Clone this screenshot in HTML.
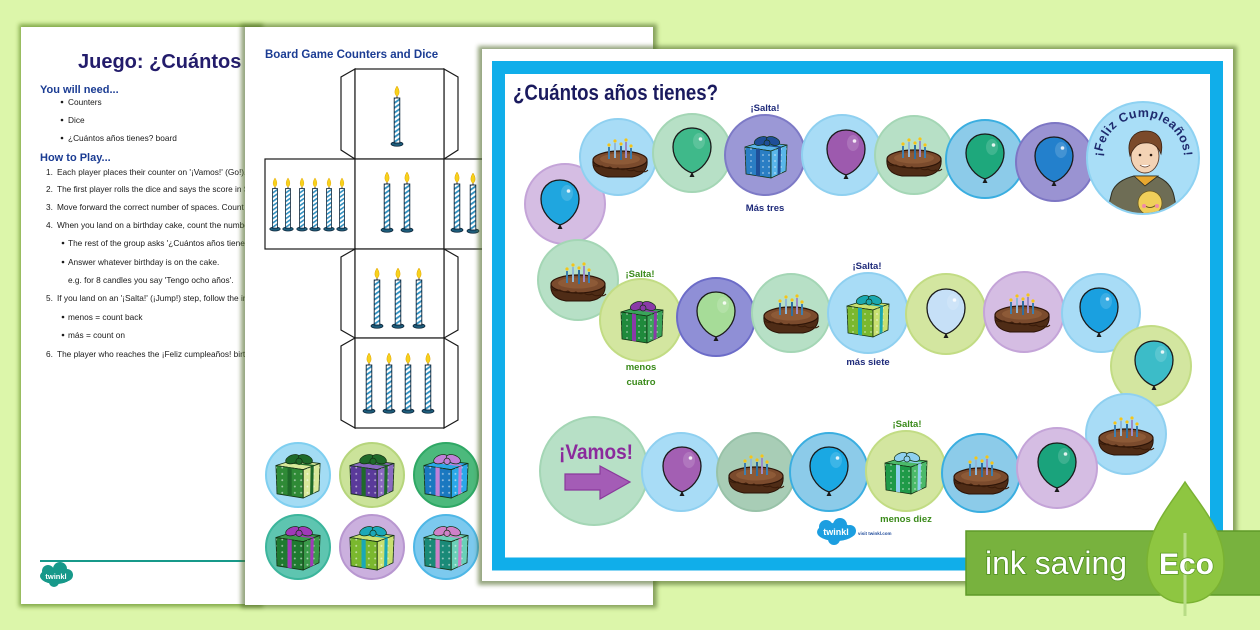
<!DOCTYPE html>
<html><head><meta charset="utf-8"><style>
html,body{margin:0;padding:0;background:#dcf6aa;}
svg{display:block;font-family:"Liberation Sans",sans-serif;}
</style></head><body>
<svg width="1260" height="630" viewBox="0 0 1260 630" xmlns="http://www.w3.org/2000/svg">
<defs>
<filter id="blur" x="-10%" y="-10%" width="120%" height="120%"><feGaussianBlur stdDeviation="2.2"/></filter>
<pattern id="stripe" width="4" height="4" patternUnits="userSpaceOnUse" patternTransform="rotate(-35)"><rect width="4" height="4" fill="#fff"/><rect width="4" height="1.8" fill="#2f8fbf"/></pattern>
<pattern id="dots" width="6" height="6" patternUnits="userSpaceOnUse"><circle cx="3" cy="3" r="0.9" fill="#fff" opacity=".55"/></pattern>
<g id="cnd">
<ellipse cx="0" cy="0" rx="6" ry="2.3" fill="#1d5c7a" stroke="#0d2438" stroke-width=".7"/>
<rect x="-2.8" y="-46" width="5.6" height="45" fill="url(#stripe)" stroke="#0d2438" stroke-width=".9"/>
<line x1="0" y1="-46" x2="0" y2="-49" stroke="#222" stroke-width="1"/>
<path d="M0,-58 C2.6,-54 3,-50 0,-47.6 C-3,-50 -2.6,-54 0,-58Z" fill="#f7d21c" stroke="#e0a000" stroke-width=".5"/>
</g>
<g id="bal">
<path d="M0,-23 C12,-23 19,-14 19,-4 C19,9 9,19 0,22 C-9,19 -19,9 -19,-4 C-19,-14 -12,-23 0,-23Z" style="fill:var(--b)" stroke="#1a1a1a" stroke-width="1.3"/>
<path d="M0,21 L-2.5,26 L2.5,26Z" fill="#1a1a1a"/>
<ellipse cx="7" cy="-10" rx="6" ry="8" fill="#fff" opacity=".15"/>
<circle cx="8.5" cy="-12" r="1.8" fill="#fff" opacity=".85"/>
</g>
<g id="cake">
<path d="M-27,0 C-28,9 -24,15 -12,17 L12,17 C24,15 28,9 27,0Z" fill="#4f2c16" stroke="#2a1206" stroke-width="1"/>
<ellipse cx="0" cy="0" rx="27" ry="9" fill="#7b4b2d" stroke="#2e1508" stroke-width="1.2"/>
<ellipse cx="0" cy="-1" rx="20" ry="5.5" fill="#8d5a37"/>
<path d="M-26,5 q4,3 8,1 q4,3 8,1 q4,3 8,1 q4,3 8,1 q4,3 8,1 q4,3 8,1 q3,2 6,-1" fill="none" stroke="#3a1c0a" stroke-width="1"/>
<g stroke-width="2">
<line x1="-11" y1="-13" x2="-11" y2="-1" stroke="#3d7fb0"/>
<line x1="-5" y1="-17" x2="-5" y2="-2" stroke="#8fb8d8"/>
<line x1="1" y1="-14" x2="1" y2="0" stroke="#2f6fa0"/>
<line x1="6" y1="-18" x2="6" y2="-2" stroke="#9a8cc8"/>
<line x1="11" y1="-12" x2="11" y2="-1" stroke="#3d7fb0"/>
</g>
<g fill="#f5c518"><circle cx="-11" cy="-15" r="1.6"/><circle cx="-5" cy="-19" r="1.6"/><circle cx="1" cy="-16" r="1.6"/><circle cx="6" cy="-20" r="1.6"/><circle cx="11" cy="-14" r="1.6"/></g>
</g>
<g id="gift"><g transform="translate(-24,-23)" stroke-linejoin="round">
<polygon points="3,13 19,8 45,11 29,17" style="fill:var(--g2)" stroke="#143214" stroke-width=".8"/>
<polygon points="3,13 29,17 29,44 4,40" style="fill:var(--g1)" stroke="#143214" stroke-width=".8"/>
<polygon points="29,17 45,11 44,37 29,44" style="fill:var(--g2)" stroke="#143214" stroke-width=".8"/>
<polygon points="3,13 29,17 29,44 4,40" fill="url(#dots)"/>
<polygon points="29,17 45,11 44,37 29,44" fill="url(#dots)"/>
<polygon points="14,14.7 18,15.3 18,42.3 14,41.7" style="fill:var(--r)"/>
<polygon points="36,14.4 39,13.3 38.5,39.5 35.5,41" style="fill:var(--r)"/>
<polygon points="12,10.5 15,9.5 40,12.5 37,13.6" style="fill:var(--r)"/>
<ellipse cx="19" cy="7" rx="7" ry="4" style="fill:var(--r)" stroke="#143214" stroke-width=".7" transform="rotate(-20 19 7)"/>
<ellipse cx="31" cy="7" rx="7" ry="4" style="fill:var(--r)" stroke="#143214" stroke-width=".7" transform="rotate(20 31 7)"/>
<circle cx="25" cy="9" r="3" style="fill:var(--r)" stroke="#143214" stroke-width=".7"/>
</g></g>
<clipPath id="fclip"><circle cx="1143" cy="158" r="55"/></clipPath>
<path id="arc" d="M1103,167 A41,41 0 1 1 1183,167" fill="none"/>
</defs>

<!-- background -->
<rect width="1260" height="630" fill="#dcf6aa"/>

<!-- LEFT PAGE -->
<rect x="19" y="24" width="244" height="583" fill="#5f8a22" opacity=".7" filter="url(#blur)"/>
<rect x="21" y="27" width="240" height="577" fill="#fff"/>
<text x="78" y="68" font-size="20" font-weight="bold" fill="#231c6b">Juego: ¿Cuántos años tienes?</text>
<text x="40" y="93" font-size="11" font-weight="bold" fill="#1b3c93">You will need...</text>
<g font-size="8.3" fill="#1a1a1a">
<circle cx="62" cy="102" r="1.3"/><text x="68" y="105">Counters</text>
<circle cx="62" cy="120" r="1.3"/><text x="68" y="123">Dice</text>
<circle cx="62" cy="138" r="1.3"/><text x="68" y="141">¿Cuántos años tienes? board</text>
</g>
<text x="40" y="161" font-size="11" font-weight="bold" fill="#1b3c93">How to Play...</text>
<g font-size="8.3" fill="#1a1a1a">
<text x="46" y="175">1.</text><text x="57" y="175">Each player places their counter on '¡Vamos!' (Go!).</text>
<text x="46" y="192">2.</text><text x="57" y="192">The first player rolls the dice and says the score in Spanish.</text>
<text x="46" y="210">3.</text><text x="57" y="210">Move forward the correct number of spaces. Count aloud.</text>
<text x="46" y="228">4.</text><text x="57" y="228">When you land on a birthday cake, count the number of candles.</text>
<circle cx="63" cy="243" r="1.3"/><text x="68" y="246">The rest of the group asks '¿Cuántos años tienes?'</text>
<circle cx="63" cy="262" r="1.3"/><text x="68" y="265">Answer whatever birthday is on the cake.</text>
<text x="68" y="283">e.g. for 8 candles you say 'Tengo ocho años'.</text>
<text x="46" y="301">5.</text><text x="57" y="301">If you land on an '¡Salta!' (¡Jump!) step, follow the instructions.</text>
<circle cx="63" cy="317" r="1.3"/><text x="68" y="320">menos = count back</text>
<circle cx="63" cy="335" r="1.3"/><text x="68" y="338">más = count on</text>
<text x="46" y="357">6.</text><text x="57" y="357">The player who reaches the  ¡Feliz cumpleaños! birthday wins.</text>
</g>
<rect x="40" y="560" width="210" height="2" fill="#17998a"/>
<g fill="#17998a"><ellipse cx="56" cy="576" rx="16" ry="8"/><circle cx="48" cy="571" r="6"/><circle cx="60" cy="569" r="7"/><circle cx="67" cy="575" r="6"/><circle cx="54" cy="582" r="5"/></g>
<text x="56" y="579" font-size="7.5" font-weight="bold" fill="#fff" text-anchor="middle">twinkl</text>

<!-- MIDDLE PAGE -->
<rect x="241" y="24" width="416" height="584" fill="#4f6a2a" opacity=".6" filter="url(#blur)"/>
<rect x="245" y="27" width="408" height="578" fill="#fff"/>
<text x="265" y="58" font-size="11.5" font-weight="bold" fill="#1b3c93">Board Game Counters and Dice</text>
<g fill="#fff" stroke="#1a1a1a" stroke-width="1.2">
<polygon points="355,69 341,77 341,150 355,159"/>
<polygon points="444,69 458,77 458,150 444,159"/>
<rect x="355" y="69" width="89" height="90"/>
<rect x="265" y="159" width="90" height="90"/>
<rect x="355" y="159" width="89" height="90"/>
<rect x="444" y="159" width="90" height="90"/>
<polygon points="355,249 341,257 341,330 355,338"/>
<polygon points="444,249 458,257 458,330 444,338"/>
<rect x="355" y="249" width="89" height="89"/>
<polygon points="355,338 341,346 341,420 355,428"/>
<polygon points="444,338 458,346 458,420 444,428"/>
<rect x="355" y="338" width="89" height="90"/>
</g>
<use href="#cnd" transform="translate(397,144)"/>
<g>
<use href="#cnd" transform="translate(275,229) scale(0.88)"/>
<use href="#cnd" transform="translate(288,229) scale(0.88)"/>
<use href="#cnd" transform="translate(302,229) scale(0.88)"/>
<use href="#cnd" transform="translate(315,229) scale(0.88)"/>
<use href="#cnd" transform="translate(329,229) scale(0.88)"/>
<use href="#cnd" transform="translate(342,229) scale(0.88)"/>
</g>
<use href="#cnd" transform="translate(387,230)"/>
<use href="#cnd" transform="translate(407,230)"/>
<use href="#cnd" transform="translate(457,230)"/>
<use href="#cnd" transform="translate(473,231)"/>
<use href="#cnd" transform="translate(377,326)"/>
<use href="#cnd" transform="translate(398,326)"/>
<use href="#cnd" transform="translate(419,326)"/>
<use href="#cnd" transform="translate(369,411)"/>
<use href="#cnd" transform="translate(389,411)"/>
<use href="#cnd" transform="translate(408,411)"/>
<use href="#cnd" transform="translate(428,411)"/>
<!-- counters -->
<circle cx="298" cy="475" r="32" fill="#a3dcf4" stroke="#7fcff0" stroke-width="2"/>
<use href="#gift" transform="translate(298,476) scale(1.05)" style="--g1:#2f8a36;--g2:#d8e89a;--r:#1f6a2a"/>
<circle cx="372" cy="475" r="32" fill="#cbe39a" stroke="#b6d57c" stroke-width="2"/>
<use href="#gift" transform="translate(372,476) scale(1.05)" style="--g1:#5a3a9a;--g2:#8a6ac0;--r:#1f6a2a"/>
<circle cx="446" cy="475" r="32" fill="#4cb97c" stroke="#2fa865" stroke-width="2"/>
<use href="#gift" transform="translate(446,476) scale(1.05)" style="--g1:#1a78c0;--g2:#2aa8e8;--r:#c080d8"/>
<circle cx="298" cy="547" r="32" fill="#5ec5b0" stroke="#3cb59c" stroke-width="2"/>
<use href="#gift" transform="translate(298,548) scale(1.05)" style="--g1:#1f7a30;--g2:#3a9a4a;--r:#a03ab8"/>
<circle cx="372" cy="547" r="32" fill="#cbb0de" stroke="#b897d0" stroke-width="2"/>
<use href="#gift" transform="translate(372,548) scale(1.05)" style="--g1:#7ab82e;--g2:#c8e070;--r:#1aa8b8"/>
<circle cx="446" cy="547" r="32" fill="#7cc9ee" stroke="#4eb7e6" stroke-width="2"/>
<use href="#gift" transform="translate(446,548) scale(1.05)" style="--g1:#1a8a78;--g2:#6ad0b8;--r:#d080c8"/>

<!-- BOARD PAGE -->
<rect x="478" y="46" width="759" height="539" fill="#4f6a2a" opacity=".6" filter="url(#blur)"/>
<rect x="482" y="49" width="751" height="532" fill="#fff"/>
<rect x="498.5" y="67.5" width="718" height="496.5" fill="none" stroke="#10aeea" stroke-width="13"/>
<text x="513" y="100" font-size="22" font-weight="bold" fill="#1a1a5e" textLength="205" lengthAdjust="spacingAndGlyphs">¿Cuántos años tienes?</text>

<!-- top row -->
<circle cx="565" cy="204" r="40" fill="#d5bde3" stroke="#c4a4d8" stroke-width="2"/>
<use href="#bal" transform="translate(560,203)" style="--b:#1fa6df"/>
<circle cx="618" cy="157" r="38" fill="#a8dcf6" stroke="#8fd0f0" stroke-width="2"/>
<use href="#cake" transform="translate(620,160)"/>
<circle cx="692" cy="153" r="39" fill="#b7e0c6" stroke="#a4d6b5" stroke-width="2"/>
<use href="#bal" transform="translate(692,151)" style="--b:#3fb98a"/>
<circle cx="765" cy="155" r="40" fill="#9b98d6" stroke="#7d7ac6" stroke-width="2"/>
<use href="#gift" transform="translate(766,157)" style="--g1:#2a7ec4;--g2:#5ab6ea;--r:#1f4f98"/>
<circle cx="842" cy="155" r="40" fill="#a8dcf6" stroke="#8fd0f0" stroke-width="2"/>
<use href="#bal" transform="translate(846,153)" style="--b:#9d5aae"/>
<circle cx="914" cy="155" r="39" fill="#b7e0c6" stroke="#a4d6b5" stroke-width="2"/>
<use href="#cake" transform="translate(914,159)"/>
<circle cx="985" cy="159" r="39" fill="#8ccbe9" stroke="#3aaee0" stroke-width="2"/>
<use href="#bal" transform="translate(985,157)" style="--b:#1ea87c"/>
<circle cx="1055" cy="162" r="39" fill="#9a93d2" stroke="#7d76c4" stroke-width="2"/>
<use href="#bal" transform="translate(1054,160)" style="--b:#2380cc"/>

<!-- Feliz circle -->
<circle cx="1143" cy="158" r="56" fill="#a9def7" stroke="#8ed2f2" stroke-width="2"/>
<g clip-path="url(#fclip)">
<path d="M1106,216 L1112,192 C1116,182 1126,178 1134,176 L1156,176 C1166,180 1172,186 1174,196 L1178,216Z" fill="#6e6d55" stroke="#2e2e22" stroke-width="1"/>
<path d="M1134,176 L1145,186 L1158,176 Z" fill="#e8a830" stroke="#2e2e22" stroke-width=".8"/>
<circle cx="1150" cy="203" r="12" fill="#f0cf5a" stroke="#6a5a20" stroke-width=".8"/>
<path d="M1144,205 q6,5 12,0" fill="none" stroke="#6a5a20" stroke-width="1"/>
<circle cx="1144" cy="206" r="2" fill="#f08aa8"/><circle cx="1157" cy="206" r="2" fill="#f08aa8"/>
<ellipse cx="1145" cy="156" rx="14" ry="17" fill="#f3d3b5" stroke="#5a3a2a" stroke-width=".9"/>
<path d="M1130,156 C1126,140 1134,131 1146,131 C1158,131 1164,140 1161,154 C1158,146 1152,142 1144,143 C1138,143 1133,148 1130,156Z" fill="#7b4a2a" stroke="#3a2010" stroke-width=".8"/>
<circle cx="1140" cy="155" r="1.3" fill="#2a1a10"/><circle cx="1151" cy="155" r="1.3" fill="#2a1a10"/>
<path d="M1140,165 q5,4 10,0" fill="#fff" stroke="#5a3a2a" stroke-width=".8"/>
</g>
<text font-size="12.5" font-weight="bold" fill="#1e2a6e" letter-spacing=".6"><textPath href="#arc" startOffset="50%" text-anchor="middle">¡Feliz Cumpleaños!</textPath></text>

<!-- middle row -->
<circle cx="578" cy="280" r="40" fill="#b7e0c6" stroke="#a4d6b5" stroke-width="2"/>
<use href="#cake" transform="translate(578,284)"/>
<circle cx="641" cy="320" r="41" fill="#d3e6a0" stroke="#c2dc84" stroke-width="2"/>
<use href="#gift" transform="translate(642,322)" style="--g1:#1f8a3c;--g2:#3aa55a;--r:#8a3aa8"/>
<circle cx="716" cy="317" r="39" fill="#8f8fd6" stroke="#6c6cc8" stroke-width="2"/>
<use href="#bal" transform="translate(716,315)" style="--b:#a6dc98"/>
<circle cx="791" cy="313" r="39" fill="#b7e0c6" stroke="#a4d6b5" stroke-width="2"/>
<use href="#cake" transform="translate(791,316)"/>
<circle cx="868" cy="313" r="40" fill="#a8dcf6" stroke="#8fd0f0" stroke-width="2"/>
<use href="#gift" transform="translate(868,316)" style="--g1:#7ab82e;--g2:#c8e070;--r:#1aa8b0"/>
<circle cx="946" cy="314" r="40" fill="#d3e6a0" stroke="#c2dc84" stroke-width="2"/>
<use href="#bal" transform="translate(946,312)" style="--b:#c6e0f7"/>
<circle cx="1024" cy="312" r="40" fill="#d5bde3" stroke="#c4a4d8" stroke-width="2"/>
<use href="#cake" transform="translate(1022,315)"/>
<circle cx="1101" cy="313" r="39" fill="#a8dcf6" stroke="#8fd0f0" stroke-width="2"/>
<use href="#bal" transform="translate(1099,311)" style="--b:#1aa0e0"/>
<circle cx="1151" cy="366" r="40" fill="#d3e6a0" stroke="#c2dc84" stroke-width="2"/>
<use href="#bal" transform="translate(1154,364)" style="--b:#3cbcc8"/>
<circle cx="1126" cy="434" r="40" fill="#a8dcf6" stroke="#8fd0f0" stroke-width="2"/>
<use href="#cake" transform="translate(1126,438)"/>

<!-- bottom row -->
<circle cx="594" cy="471" r="54" fill="#b7e0c6" stroke="#a4d6b5" stroke-width="2"/>
<text x="596" y="459" font-size="21" font-weight="bold" fill="#8b2a9c" text-anchor="middle" textLength="74" lengthAdjust="spacingAndGlyphs">¡Vamos!</text>
<polygon points="565,474 600,474 600,466 630,482 600,499 600,490 565,490" fill="#a45cb6" stroke="#8a3a9c" stroke-width="1.2"/>
<circle cx="681" cy="472" r="39" fill="#a8dcf6" stroke="#8fd0f0" stroke-width="2"/>
<use href="#bal" transform="translate(682,470)" style="--b:#a35fb3"/>
<circle cx="756" cy="472" r="39" fill="#a8cdb6" stroke="#98c2a8" stroke-width="2"/>
<use href="#cake" transform="translate(756,476)"/>
<circle cx="829" cy="472" r="39" fill="#8ccbe9" stroke="#3aaee0" stroke-width="2"/>
<use href="#bal" transform="translate(829,470)" style="--b:#1aa8e3"/>
<circle cx="906" cy="471" r="40" fill="#d3e6a0" stroke="#c2dc84" stroke-width="2"/>
<use href="#gift" transform="translate(906,473)" style="--g1:#1f9a48;--g2:#4cba6a;--r:#8ed0f0"/>
<circle cx="981" cy="473" r="39" fill="#8ccbe9" stroke="#3aaee0" stroke-width="2"/>
<use href="#cake" transform="translate(981,477)"/>
<circle cx="1057" cy="468" r="40" fill="#d5bde3" stroke="#c4a4d8" stroke-width="2"/>
<use href="#bal" transform="translate(1057,466)" style="--b:#1aa37c"/>

<!-- labels -->
<g font-size="9.5" font-weight="bold" text-anchor="middle">
<text x="765" y="111" fill="#1e2a7a">¡Salta!</text>
<text x="765" y="211" fill="#1e2a7a">Más tres</text>
<text x="640" y="277" fill="#3a8a1a">¡Salta!</text>
<text x="641" y="370" fill="#3a8a1a">menos</text>
<text x="641" y="385" fill="#3a8a1a">cuatro</text>
<text x="867" y="269" fill="#1e2a7a">¡Salta!</text>
<text x="868" y="365" fill="#1e2a7a">más siete</text>
<text x="907" y="427" fill="#3a8a1a">¡Salta!</text>
<text x="906" y="522" fill="#3a8a1a">menos diez</text>
</g>
<!-- twinkl logo board -->
<g fill="#1c9ee0"><ellipse cx="836" cy="532" rx="19" ry="9"/><circle cx="826" cy="527" r="7"/><circle cx="840" cy="525" r="7"/><circle cx="850" cy="531" r="6"/><circle cx="834" cy="539" r="6"/></g>
<text x="836" y="535" font-size="9" font-weight="bold" fill="#fff" text-anchor="middle">twinkl</text>
<text x="858" y="535" font-size="4.5" font-weight="bold" fill="#1e4a9a">visit twinkl.com</text>

<!-- ECO badge -->
<rect x="966" y="531" width="300" height="64" fill="#78b23e" stroke="#5f9a28" stroke-width="1.5"/>
<path d="M1185,482 C1200,505 1224,530 1224,563 C1224,588 1206,603 1185,603 C1164,603 1147,588 1147,563 C1147,530 1170,505 1185,482Z" fill="#8ec641" stroke="#7ab232" stroke-width="1.5"/>
<line x1="1185" y1="533" x2="1185" y2="616" stroke="#b8dc86" stroke-width="3"/>
<text x="985" y="574" font-size="32" fill="#fff" stroke="#4e8f1e" stroke-width="1.5" paint-order="stroke" textLength="142" lengthAdjust="spacingAndGlyphs">ink saving</text>
<text x="1159" y="574" font-size="30" font-weight="bold" fill="#fff" stroke="#5a9a22" stroke-width="1.5" paint-order="stroke" textLength="55" lengthAdjust="spacingAndGlyphs">Eco</text>
</svg>
</body></html>
